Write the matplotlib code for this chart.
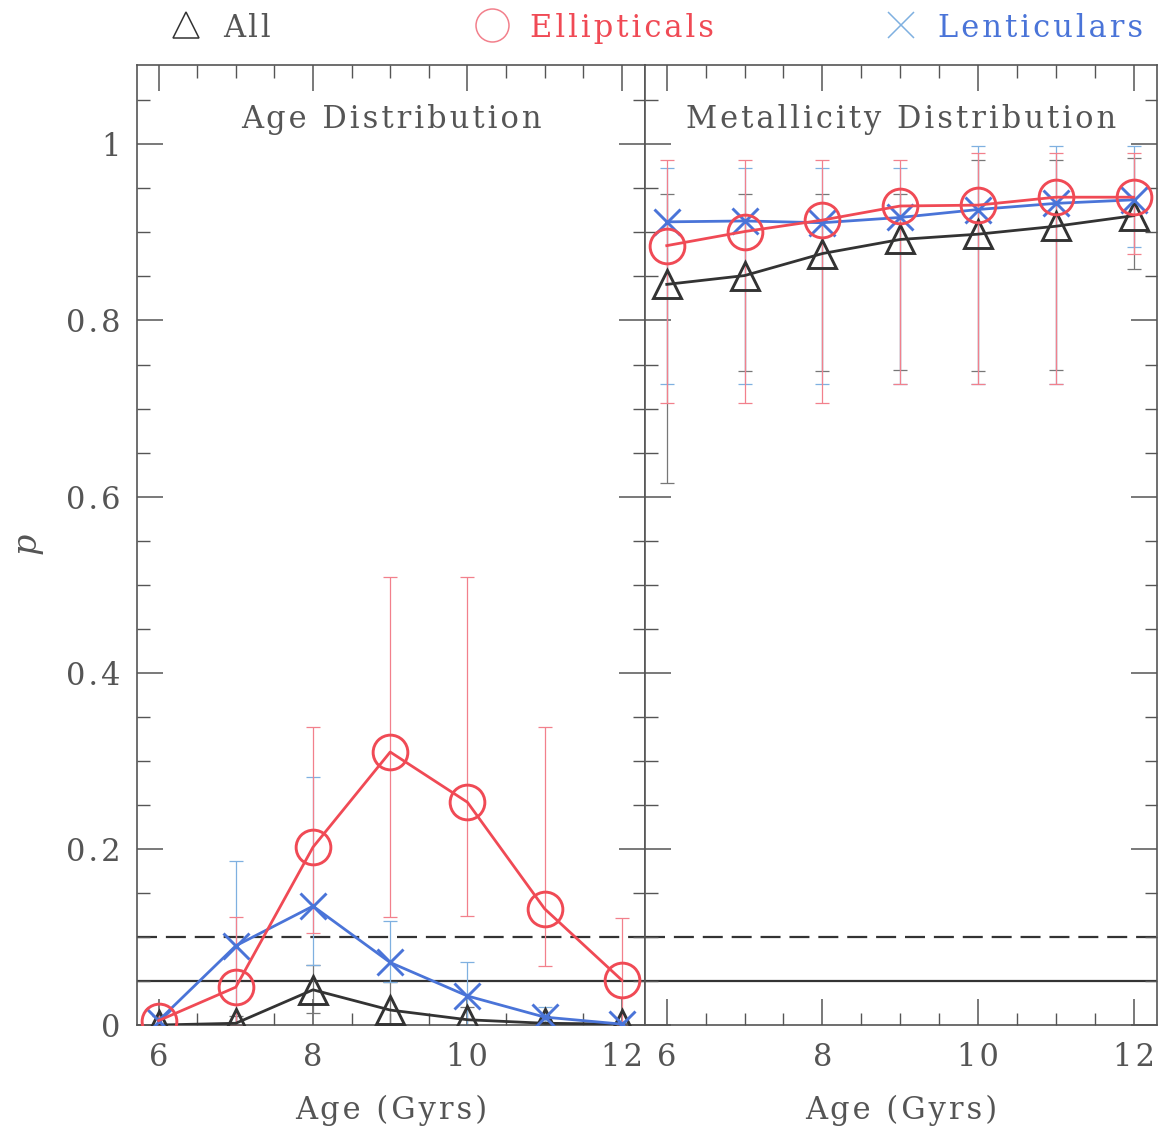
import matplotlib

matplotlib.use("Agg")
import matplotlib.pyplot as plt
from matplotlib.ticker import MultipleLocator, FixedLocator, FixedFormatter

plt.rcParams["font.family"] = ["DejaVu Serif"]
plt.rcParams["mathtext.fontset"] = "dejavuserif"

# ages (Gyr) shared by both panels
ages = [6, 7, 8, 9, 10, 11, 12]

# age distribution: p, lower, upper
age_all = [0.0, 0.002, 0.040, 0.017, 0.006, 0.002, 0.001]
age_all_lo = [0.0, 0.0, 0.014, 0.0, 0.0, 0.0, 0.0]
age_all_hi = [0.0, 0.010, 0.068, 0.049, 0.020, 0.004, 0.002]

age_ell = [0.005, 0.043, 0.202, 0.310, 0.253, 0.132, 0.051]
age_ell_lo = [0.0, 0.0, 0.105, 0.123, 0.124, 0.067, 0.0]
age_ell_hi = [0.010, 0.123, 0.338, 0.509, 0.509, 0.338, 0.122]

age_len = [0.005, 0.090, 0.135, 0.071, 0.033, 0.009, 0.001]
age_len_lo = [0.0, 0.0, 0.068, 0.049, 0.0, 0.0, 0.0]
age_len_hi = [0.010, 0.186, 0.282, 0.118, 0.071, 0.021, 0.005]

# metallicity distribution
met_all = [0.841, 0.851, 0.876, 0.892, 0.898, 0.907, 0.919]
met_all_lo = [0.616, 0.743, 0.743, 0.744, 0.743, 0.744, 0.859]
met_all_hi = [0.944, 0.944, 0.944, 0.944, 0.982, 0.982, 0.984]

met_ell = [0.885, 0.901, 0.914, 0.930, 0.931, 0.940, 0.940]
met_ell_lo = [0.706, 0.706, 0.706, 0.728, 0.728, 0.728, 0.876]
met_ell_hi = [0.982, 0.982, 0.982, 0.982, 0.990, 0.990, 0.990]

met_len = [0.912, 0.913, 0.911, 0.917, 0.926, 0.933, 0.937]
met_len_lo = [0.728, 0.728, 0.728, 0.728, 0.728, 0.728, 0.883]
met_len_hi = [0.973, 0.973, 0.973, 0.973, 0.998, 0.998, 0.998]

ref_dashed = 0.10
ref_solid = 0.05

yticks = [0, 0.2, 0.4, 0.6, 0.8, 1.0]
ytick_labels = ["0", "0.2", "0.4", "0.6", "0.8", "1"]
xticks = [6, 8, 10, 12]

BLACK = "#333333"
RED = "#f04a55"
BLUE = "#4a74d8"
STYLES = {
    "all": dict(color=BLACK, marker="^", ms=20, err="#777777"),
    "ell": dict(color=RED, marker="o", ms=25, err="#f2808c"),
    "len": dict(color=BLUE, marker="x", ms=19, err="#7fb0e0"),
}
TXT = "#555555"


def spaced(s):
    # the original lettering is loosely tracked; pad with hair spaces
    return "\u200a".join(s)


def draw(ax, series):
    for key, y, lo, hi in series:
        st = STYLES[key]
        yerr = [[v - l for v, l in zip(y, lo)], [h - v for v, h in zip(y, hi)]]
        ax.errorbar(ages, y, yerr=yerr, fmt="none", ecolor=st["err"],
                    elinewidth=0.9, capsize=5, capthick=0.9, zorder=2)
    for key, y, lo, hi in series:
        st = STYLES[key]
        ax.plot(ages, y, color=st["color"], lw=2.0, marker=st["marker"],
                ms=st["ms"], mfc="none", mec=st["color"], mew=2.1, zorder=3)
    ax.axhline(ref_dashed, color=BLACK, lw=1.6, ls=(0, (9, 4)), zorder=1)
    ax.axhline(ref_solid, color=BLACK, lw=1.6, zorder=1)
    ax.set_xlim(5.72, 12.3)
    ax.set_ylim(0, 1.09)
    ax.xaxis.set_major_locator(FixedLocator(xticks))
    ax.xaxis.set_major_formatter(FixedFormatter([spaced(str(t)) for t in xticks]))
    ax.xaxis.set_minor_locator(MultipleLocator(0.5))
    ax.yaxis.set_major_locator(FixedLocator(yticks))
    ax.yaxis.set_minor_locator(MultipleLocator(0.05))
    ax.tick_params(which="both", direction="in", top=True, right=True,
                   colors="#555555", labelcolor=TXT, labelsize=22, pad=12)
    ax.tick_params(which="major", length=19, width=1.1)
    ax.tick_params(which="minor", length=9, width=1.0)
    for s in ax.spines.values():
        s.set_color("#555555")
        s.set_linewidth(1.2)
    ax.set_xlabel(spaced("Age (Gyrs)"), fontsize=22, color=TXT, labelpad=16)


fig = plt.figure(figsize=(11.64, 11.32), dpi=100)
ax1 = fig.add_axes([0.1177, 0.0945, 0.4364, 0.848])
ax2 = fig.add_axes([0.5541, 0.0945, 0.4399, 0.848])

draw(ax1, [("all", age_all, age_all_lo, age_all_hi),
           ("len", age_len, age_len_lo, age_len_hi),
           ("ell", age_ell, age_ell_lo, age_ell_hi)])
draw(ax2, [("all", met_all, met_all_lo, met_all_hi),
           ("len", met_len, met_len_lo, met_len_hi),
           ("ell", met_ell, met_ell_lo, met_ell_hi)])

ax1.yaxis.set_major_formatter(FixedFormatter([spaced(t) for t in ytick_labels]))
ax1.set_ylabel("$p$", fontsize=24, color=TXT, labelpad=14)
ax2.tick_params(labelleft=False)

ax1.text(0.5, 0.943, spaced("Age Distribution"), transform=ax1.transAxes,
         ha="center", va="center", fontsize=22, color=TXT)
ax2.text(0.5, 0.943, spaced("Metallicity Distribution"), transform=ax2.transAxes,
         ha="center", va="center", fontsize=22, color=TXT)

# legend row across the top
leg = fig.add_axes([0, 0.955, 1, 0.045])
leg.set_xlim(0, 1)
leg.set_ylim(0, 1)
leg.axis("off")
entries = [("all", "All", 0.160, BLACK), ("ell", "Ellipticals", 0.423, RED),
           ("len", "Lenticulars", 0.774, BLUE)]
for key, label, xpos, col in entries:
    st = STYLES[key]
    leg.plot([xpos], [0.5], marker=st["marker"], ms=st["ms"] * 0.95,
             mfc="none", mec=st["err"] if key != "all" else BLACK, mew=1.1)
    leg.text(xpos + 0.032, 0.45, spaced(label), ha="left", va="center",
             fontsize=22, color=col if key != "all" else TXT)

fig.savefig("out.png", dpi=100)
